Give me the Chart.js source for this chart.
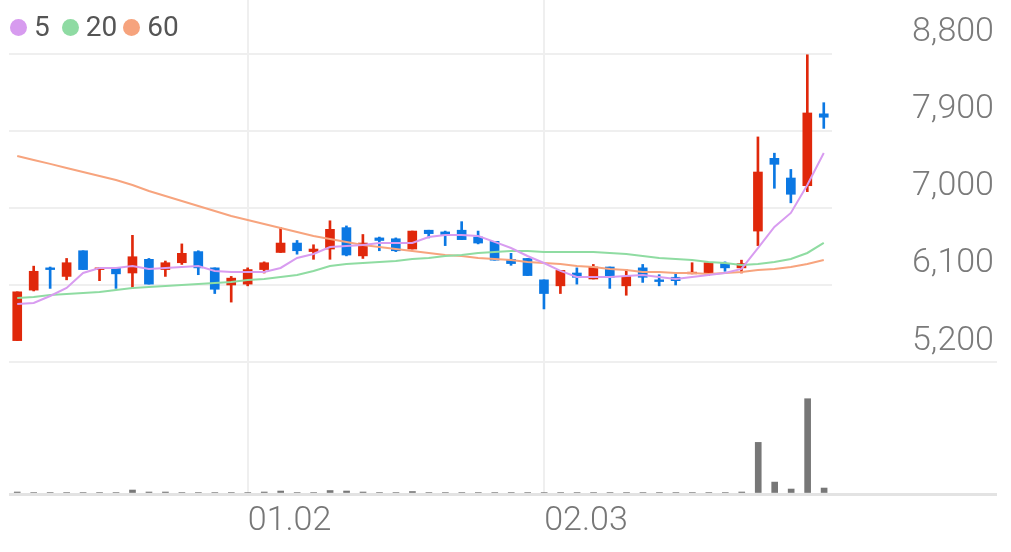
<!DOCTYPE html>
<html>
<head>
<meta charset="utf-8">
<script src="https://cdn.jsdelivr.net/npm/chart.js@4.4.1/dist/chart.umd.min.js"></script>
<style>
  body { margin: 0; background: #fff; }
  #wrap { position: relative; width: 1011px; height: 552px; overflow: hidden; }
  #price { position: absolute; left: 0; top: 0; }
  #volume { position: absolute; left: 0; top: 352px; }
  #legend { position: absolute; left: 10px; top: 10px; display: flex; align-items: center;
            font: 28px Roboto, sans-serif; line-height: 34px; color: #555; }
  #legend i { display: inline-block; width: 17px; height: 17px; border-radius: 50%; margin-right: 7px; }
</style>
</head>
<body>
<div id="wrap">
  <canvas id="price" width="1011" height="362"></canvas>
  <canvas id="volume" width="1011" height="200"></canvas>
  <div id="legend">
    <i style="background:#d79bef"></i><span style="margin-right:12px">5</span>
    <i style="background:#8fdba3"></i><span style="margin-right:6px">20</span>
    <i style="background:#f6a37d"></i><span>60</span>
  </div>
</div>
<script>
// trading days (MM.DD)
const dates = [
  '12.10', '12.11', '12.12', '12.13', '12.16', '12.17', '12.18', '12.19', '12.20', '12.23', '12.24', '12.26', '12.27', '12.30',
  '01.02', '01.03', '01.06', '01.07', '01.08', '01.09', '01.10', '01.13', '01.14', '01.15', '01.16', '01.17', '01.20', '01.21',
  '01.22', '01.23', '01.24', '01.31',
  '02.03', '02.04', '02.05', '02.06', '02.07', '02.10', '02.11', '02.12', '02.13', '02.14', '02.17', '02.18', '02.19', '02.20',
  '02.21', '02.24', '02.25', '02.26'
];

const open = [5450, 6040, 6300, 6200, 6500, 6280, 6300, 6240, 6400, 6280,
              6360, 6490, 6300, 6100, 6110, 6280, 6480, 6590, 6490, 6520,
              6770, 6440, 6650, 6640, 6520, 6740, 6720, 6740, 6660, 6610,
              6400, 6410, 6160, 6090, 6240, 6170, 6310, 6090, 6300, 6160,
              6190, 6230, 6230, 6350, 6300, 6730, 7580, 7350, 7260, 8100];
const high = [6020, 6320, 6310, 6410, 6500, 6300, 6300, 6680, 6410, 6380,
              6580, 6500, 6300, 6200, 6300, 6370, 6770, 6620, 6570, 6850,
              6790, 6690, 6660, 6650, 6730, 6740, 6730, 6840, 6730, 6610,
              6470, 6410, 6160, 6270, 6300, 6340, 6310, 6280, 6340, 6220,
              6230, 6360, 6360, 6370, 6390, 7830, 7640, 7450, 8790, 8230];
const low = [5450, 6030, 6060, 6160, 6280, 6150, 6060, 6060, 6110, 6200,
             6340, 6220, 6000, 5900, 6090, 6240, 6480, 6460, 6400, 6400,
             6440, 6410, 6500, 6490, 6520, 6650, 6560, 6630, 6580, 6390,
             6330, 6210, 5820, 6000, 6110, 6170, 6060, 5980, 6130, 6090,
             6100, 6230, 6210, 6260, 6240, 6560, 7230, 7060, 7190, 7930];
const close = [6020, 6260, 6280, 6360, 6280, 6300, 6230, 6430, 6110, 6360,
               6470, 6300, 6050, 6180, 6280, 6360, 6590, 6500, 6520, 6750,
               6450, 6590, 6620, 6500, 6730, 6700, 6690, 6630, 6590, 6390,
               6350, 6210, 6000, 6270, 6190, 6310, 6190, 6200, 6190, 6140,
               6150, 6250, 6360, 6300, 6350, 7420, 7510, 7160, 8110, 8060];

// moving averages
const ma5 = [5878, 5890, 5971, 6065, 6240, 6299, 6299, 6322, 6287, 6299,
             6310, 6322, 6264, 6252, 6252, 6252, 6299, 6416, 6462, 6544,
             6556, 6568, 6591, 6591, 6591, 6661, 6684, 6684, 6673, 6603,
             6532, 6439, 6357, 6264, 6193, 6193, 6193, 6205, 6217, 6193,
             6170, 6193, 6217, 6240, 6287, 6532, 6778, 6942, 7269, 7643];
const ma20 = [5948, 5960, 5983, 5995, 6006, 6018, 6042, 6065, 6077, 6088,
              6100, 6112, 6123, 6135, 6158, 6170, 6193, 6217, 6264, 6322,
              6345, 6357, 6369, 6380, 6404, 6416, 6439, 6451, 6474, 6486,
              6497, 6497, 6486, 6486, 6486, 6486, 6474, 6462, 6439, 6416,
              6404, 6392, 6369, 6357, 6334, 6345, 6369, 6404, 6474, 6591];
const ma60 = [7608, 7561, 7515, 7468, 7421, 7374, 7327, 7269, 7199, 7140,
              7082, 7023, 6965, 6906, 6860, 6813, 6766, 6719, 6673, 6638,
              6603, 6568, 6544, 6521, 6497, 6474, 6451, 6439, 6416, 6404,
              6392, 6369, 6357, 6345, 6322, 6310, 6287, 6275, 6252, 6252,
              6240, 6240, 6229, 6240, 6252, 6275, 6287, 6310, 6345, 6392];

// volume (thousand shares)
const volume = [20, 15, 15, 15, 15, 15, 15, 40, 20, 20,
                15, 15, 15, 15, 15, 20, 30, 15, 15, 35,
                30, 20, 15, 15, 25, 15, 15, 15, 15, 15,
                15, 15, 15, 15, 15, 15, 15, 15, 15, 15,
                15, 15, 15, 15, 20, 520, 120, 50, 960, 60];

const priceTicks = [5200, 6100, 7000, 7900, 8800];

const UP = '#e0280b';
const DOWN = '#0b78e3';
const GRID = '#efefef';
const candleColor = ctx => close[ctx.dataIndex] >= open[ctx.dataIndex] ? UP : DOWN;

// first trading day of each month gets a grid line + label
const monthStart = dates.map((d, i) => i > 0 && d.slice(0, 2) !== dates[i - 1].slice(0, 2));

new Chart(document.getElementById('price'), {
  type: 'bar',
  data: {
    labels: dates,
    datasets: [
      { type: 'line', label: '5', data: ma5, borderColor: '#d89cf0', borderWidth: 2, pointRadius: 0, tension: 0, order: 0 },
      { type: 'line', label: '20', data: ma20, borderColor: '#8fdca2', borderWidth: 2, pointRadius: 0, tension: 0, order: 0 },
      { type: 'line', label: '60', data: ma60, borderColor: '#f7a47e', borderWidth: 2, pointRadius: 0, tension: 0, order: 0 },
      { label: 'body', data: open.map((o, i) => [o, close[i]]), backgroundColor: candleColor,
        barThickness: 9, grouped: false, order: 1 },
      { label: 'wick', data: low.map((l, i) => [l, high[i]]), backgroundColor: candleColor,
        barThickness: 2, grouped: false, order: 2 }
    ]
  },
  options: {
    responsive: false,
    animation: false,
    devicePixelRatio: 1,
    layout: { padding: { left: 9, top: 0, right: 0, bottom: 0 } },
    plugins: { legend: { display: false }, tooltip: { enabled: false } },
    scales: {
      x: {
        offset: true,
        grid: { offset: false, drawTicks: false, lineWidth: 2,
                color: c => monthStart[c.index] ? GRID : 'transparent' },
        border: { display: false },
        ticks: { display: false, autoSkip: false },
        afterFit: s => { s.height = 0; }
      },
      y: {
        position: 'right',
        min: 5200,
        max: 9430,
        afterBuildTicks: s => { s.ticks = priceTicks.map(v => ({ value: v })); },
        grid: { color: GRID, lineWidth: 2, drawTicks: false },
        border: { display: false },
        ticks: {
          crossAlign: 'near',
          padding: 80,
          labelOffset: -21,
          color: '#7a7a7a',
          font: { family: 'Roboto', size: 34, weight: 300 },
          callback: v => v.toLocaleString('en-US')
        },
        afterFit: s => { s.width = 179; s.paddingTop = 0; s.paddingBottom = 0; }
      }
    }
  }
});

new Chart(document.getElementById('volume'), {
  type: 'bar',
  data: {
    labels: dates.concat(Array(10).fill('')),
    datasets: [
      { label: 'volume', data: volume, backgroundColor: '#777777', barThickness: 6 }
    ]
  },
  options: {
    responsive: false,
    animation: false,
    devicePixelRatio: 1,
    layout: { padding: { left: 9, top: 10, right: 14, bottom: 0 } },
    plugins: { legend: { display: false }, tooltip: { enabled: false } },
    scales: {
      x: {
        offset: true,
        grid: { offset: false, drawTicks: false, lineWidth: 2,
                color: c => monthStart[c.index] ? GRID : 'transparent' },
        border: { display: false },
        ticks: {
          autoSkip: false,
          maxRotation: 0,
          align: 'start',
          padding: 7,
          color: '#777',
          font: { family: 'Roboto', size: 34, weight: 300 },
          callback: (v, i) => monthStart[i] ? dates[i] : ''
        },
        afterFit: s => { s.height = 58; }
      },
      y: {
        min: 0,
        max: 1330,
        afterBuildTicks: s => { s.ticks = [{ value: 0 }, { value: 1330 }]; },
        grid: {
          drawTicks: false,
          color: c => c.tick.value === 0 ? '#e3e3e3' : GRID,
          lineWidth: c => c.tick.value === 0 ? 3 : 2
        },
        border: { display: false },
        ticks: { display: false },
        afterFit: s => { s.width = 0; }
      }
    }
  }
});
</script>
</body>
</html>
